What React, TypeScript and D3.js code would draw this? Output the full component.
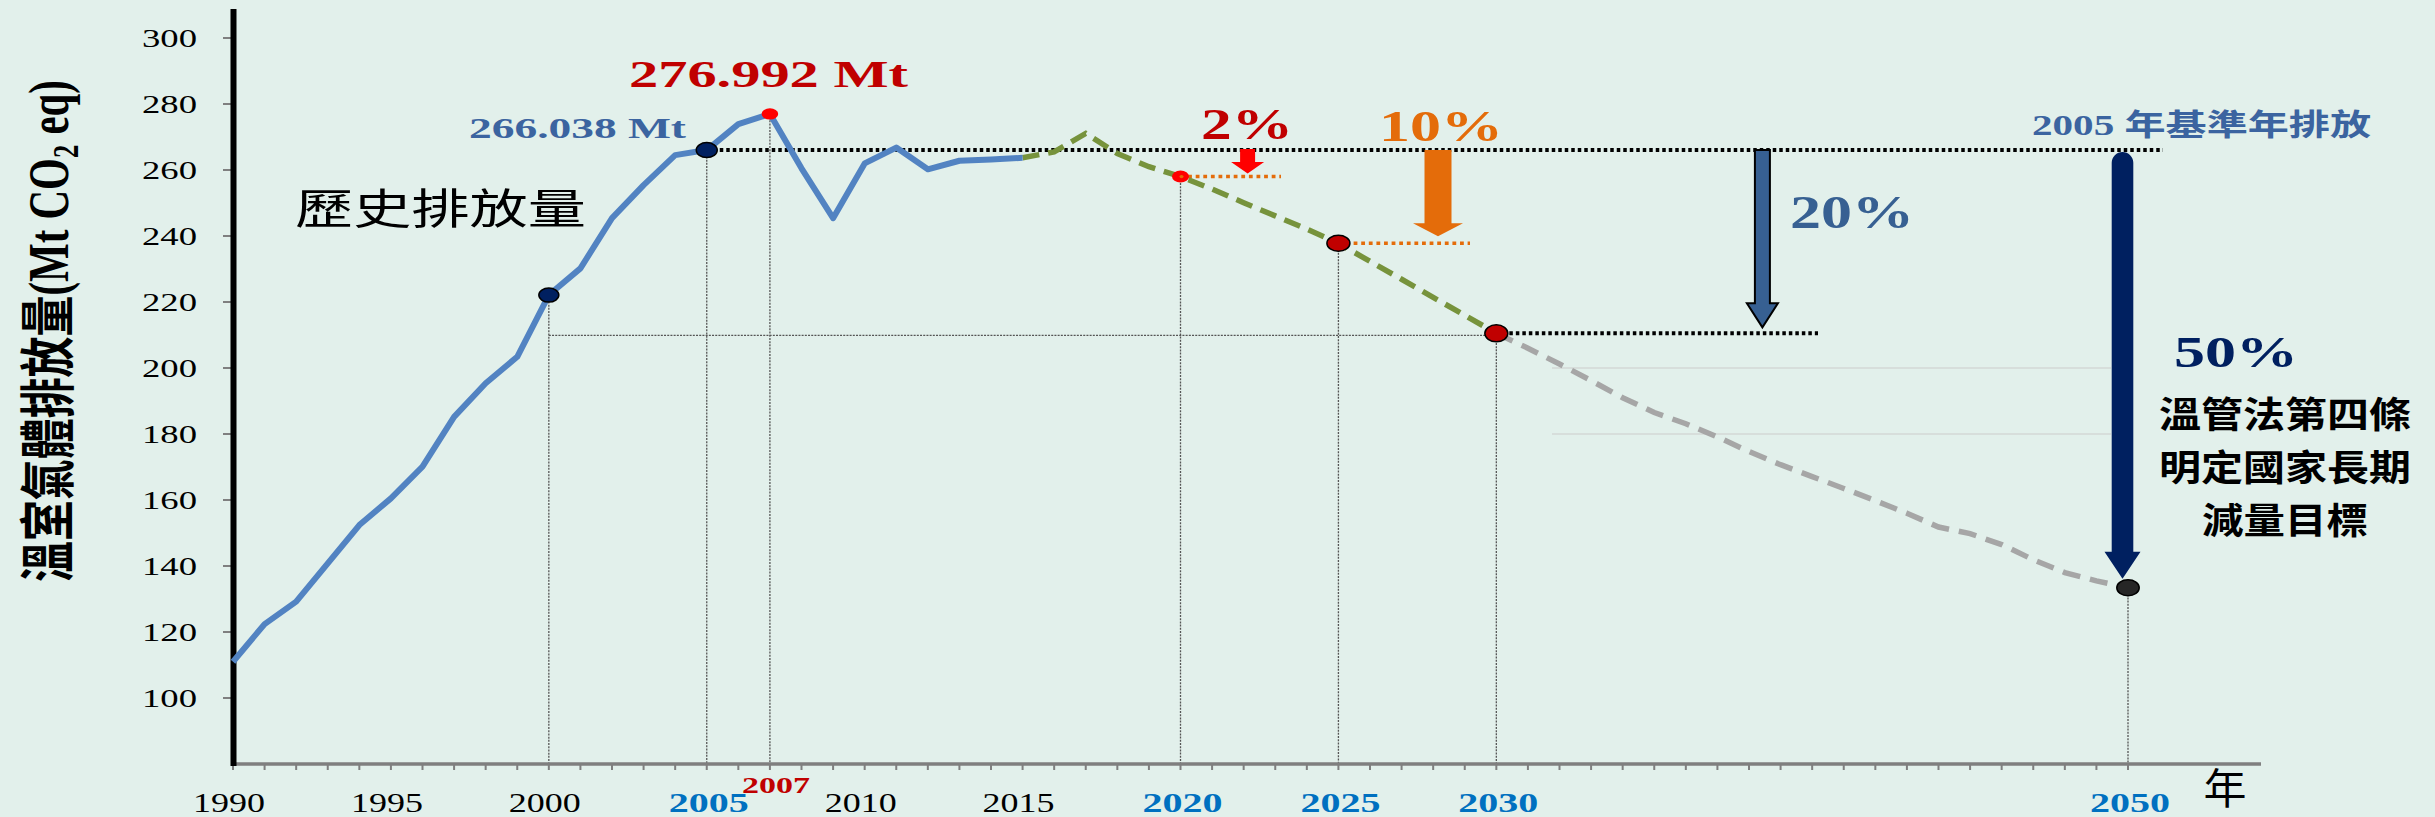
import { useEffect } from 'react';
import * as d3 from 'd3';

// historical emissions (Mt CO2e)
const historyYears = [1990, 1991, 1992, 1993, 1994, 1995, 1996, 1997, 1998, 1999, 2000, 2001, 2002,
  2003, 2004, 2005, 2006, 2007, 2008, 2009, 2010, 2011, 2012, 2013, 2014, 2015];
const historyValues = [111.0, 122.4, 129.2, 140.8, 152.4, 160.5, 170.1, 185.2, 195.4, 203.4, 222.1, 230.2, 245.4,
  255.4, 264.5, 266.038, 273.9, 276.992, 260.5, 245.4, 262.0, 266.8, 260.2, 262.8, 263.2, 263.7];

// near-term pathway (green dashed)
const pathYears = [2015, 2016, 2017, 2018, 2019, 2020, 2021, 2022, 2023, 2024, 2025, 2026, 2027, 2028, 2029, 2030];
const pathValues = [263.7, 265.5, 271.1, 265.0, 261.0, 258.0, 254.2, 250.1, 246.1, 242.1, 237.8, 232.3, 226.9, 221.4, 216.0, 210.5];

// long-term pathway (grey dashed)
const longYears = [2030, 2031, 2032, 2033, 2034, 2035, 2036, 2037, 2038, 2039, 2040,
  2041, 2042, 2043, 2044, 2045, 2046, 2047, 2048, 2049, 2050];
const longValues = [210.5, 206.0, 201.2, 196.2, 191.0, 186.5, 183.1, 179.1, 174.7, 170.7, 167.1,
  163.5, 159.8, 156.0, 151.8, 149.8, 146.5, 141.9, 138.0, 135.5, 133.4];

const yTicks = [100, 120, 140, 160, 180, 200, 220, 240, 260, 280, 300];
const plainYearLabels = [1990, 1995, 2000, 2010, 2015];
const keyYearLabels = [2005, 2020, 2025, 2030, 2050];
const baseYear = 2005;
const peakYear = 2007;
const faintGrid = [200, 180];

const W = 2435;
const H = 817;
const SERIF = '"Liberation Serif", "Times New Roman", serif';
const CJK = '"Noto Sans CJK TC", "Noto Sans CJK SC", sans-serif';

const x = d3.scaleLinear().domain([1990, 2050]).range([233, 2128]);
const y = d3.scaleLinear().domain([80, 300]).range([764, 38]);

const valueAt = (yr: number) => {
  const all = [...historyYears.map((d, i) => [d, historyValues[i]]),
    ...pathYears.map((d, i) => [d, pathValues[i]]),
    ...longYears.map((d, i) => [d, longValues[i]])];
  return (all.find(p => p[0] === yr) as number[])[1];
};

const line = d3.line<[number, number]>().x(d => x(d[0])).y(d => y(d[1]));
const zip = (a: number[], b: number[]) => a.map((d, i) => [d, b[i]] as [number, number]);

// text whose width is fitted to the stretched original
function Txt({ x0, yb, w, size, fill = '#000', weight = 400, family = SERIF, mid = false, children }: any) {
  return (
    <text x={mid ? x0 - w / 2 : x0} y={yb} fontSize={size} fill={fill} fontWeight={weight}
      fontFamily={family} textLength={w} lengthAdjust="spacingAndGlyphs">{children}</text>
  );
}

function arrowPath(cx: number, y0: number, y1: number, sw: number, hw: number, hl: number, round = false) {
  const top = round
    ? `M${cx - sw / 2},${y0 + sw / 2} A${sw / 2},${sw / 2} 0 0 1 ${cx + sw / 2},${y0 + sw / 2}`
    : `M${cx - sw / 2},${y0} L${cx + sw / 2},${y0}`;
  return `${top} L${cx + sw / 2},${y1 - hl} L${cx + hw / 2},${y1 - hl} L${cx},${y1} L${cx - hw / 2},${y1 - hl} L${cx - sw / 2},${y1 - hl} Z`;
}

export default function App() {
  useEffect(() => {
    document.body.style.margin = '0';
  }, []);

  const baseV = valueAt(baseYear);
  const v2000 = valueAt(2000);
  const v2020 = valueAt(2020);
  const v2025 = valueAt(2025);
  const v2030 = valueAt(2030);
  const v2050 = valueAt(2050);
  const yBase = y(baseV);
  const axisY = y(80);
  const dropYears = [2000, 2005, 2007, 2020, 2025, 2030, 2050];

  return (
    <svg width={W} height={H} style={{ position: 'absolute', left: 0, top: 0, display: 'block' }}>
      <rect width={W} height={H} fill="#e2f0eb" />

      {/* faint remnants of gridlines */}
      {faintGrid.map(v => (
        <line key={v} x1={1552} x2={2111} y1={y(v)} y2={y(v)} stroke="#d3d8d6" strokeWidth={1.5} />
      ))}

      {/* thin drop lines */}
      {dropYears.map(yr => (
        <line key={yr} x1={x(yr)} x2={x(yr)} y1={y(valueAt(yr))} y2={axisY}
          stroke="#555" strokeWidth={1.3} strokeDasharray="2 1.2" />
      ))}
      <line x1={x(2000)} x2={x(2030)} y1={y(v2030) + 2} y2={y(v2030) + 2}
        stroke="#555" strokeWidth={1.3} strokeDasharray="2 1.2" />

      {/* reference dotted lines */}
      <line x1={x(baseYear)} x2={2163} y1={yBase} y2={yBase} stroke="#000" strokeWidth={4} strokeDasharray="3.5 3" />
      <line x1={x(2030)} x2={1818} y1={y(v2030)} y2={y(v2030)} stroke="#000" strokeWidth={4} strokeDasharray="3.5 3" />
      <line x1={x(2020)} x2={1281} y1={y(v2020)} y2={y(v2020)} stroke="#e46c0a" strokeWidth={3.5} strokeDasharray="3.8 3.8" />
      <line x1={x(2025)} x2={1470} y1={y(v2025)} y2={y(v2025)} stroke="#e46c0a" strokeWidth={3.5} strokeDasharray="3.8 3.8" />

      {/* axes */}
      <line x1={233} x2={2261} y1={axisY} y2={axisY} stroke="#7f7f7f" strokeWidth={3.5} />
      {d3.range(1990, 2051).map(t => (
        <line key={t} x1={x(t)} x2={x(t)} y1={axisY} y2={axisY + 6} stroke="#7f7f7f" strokeWidth={2} />
      ))}
      {yTicks.map(t => (
        <line key={t} x1={223} x2={231} y1={y(t)} y2={y(t)} stroke="#7f7f7f" strokeWidth={2} />
      ))}
      <line x1={233.5} x2={233.5} y1={9} y2={axisY + 2} stroke="#000" strokeWidth={6} />

      {/* series */}
      <path d={line(zip(longYears, longValues)) as string} fill="none" stroke="#a6a6a6" strokeWidth={5.5} strokeDasharray="18 10" />
      <path d={line(zip(pathYears, pathValues)) as string} fill="none" stroke="#77933c" strokeWidth={5.5} strokeDasharray="17 9" />
      <path d={line(zip(historyYears, historyValues)) as string} fill="none" stroke="#5283c2" strokeWidth={6} strokeLinejoin="round" />

      {/* arrows */}
      <path d={arrowPath(1247.6, yBase - 1, y(v2020) - 3, 15, 33, 11.5)} fill="#ff0000" />
      <path d={arrowPath(1438, yBase, y(v2025) - 7, 27, 50, 13)} fill="#e46c0a" />
      <path d={arrowPath(1762.4, yBase, y(v2030) - 6, 15, 31, 24)} fill="#376092" stroke="#000" strokeWidth={2} />
      <path d={arrowPath(2122.5, yBase + 2, y(v2050) - 9, 21.6, 36, 27, true)} fill="#002060" />

      {/* markers */}
      <ellipse cx={x(2000)} cy={y(v2000)} rx={10} ry={7} fill="#002060" stroke="#000" strokeWidth={1.5} />
      <ellipse cx={x(baseYear)} cy={yBase} rx={10.5} ry={7.5} fill="#002060" stroke="#000" strokeWidth={1.5} />
      <ellipse cx={x(peakYear)} cy={y(valueAt(peakYear))} rx={8.3} ry={5.6} fill="#ff0000" />
      <ellipse cx={x(2020)} cy={y(v2020)} rx={8.5} ry={6} fill="#ff0000" />
      <ellipse cx={x(2020) + 1} cy={y(v2020)} rx={2} ry={1.6} fill="#e46c0a" />
      <ellipse cx={x(2025)} cy={y(v2025)} rx={11.5} ry={8} fill="#c00000" stroke="#000" strokeWidth={1.5} />
      <ellipse cx={x(2030)} cy={y(v2030)} rx={11.5} ry={8.5} fill="#c00000" stroke="#000" strokeWidth={1.5} />
      <ellipse cx={x(2050)} cy={y(v2050)} rx={11.2} ry={8} fill="#262626" stroke="#000" strokeWidth={1.5} />

      {/* y tick labels */}
      {yTicks.map(t => (
        <Txt key={t} x0={197 - 55} yb={y(t) + 9} w={55} size={26}>{t}</Txt>
      ))}

      {/* x tick labels */}
      {plainYearLabels.map(t => (
        <Txt key={t} x0={x(t) - 4} yb={812} w={72} size={27} mid>{t}</Txt>
      ))}
      {keyYearLabels.map(t => (
        <Txt key={t} x0={x(t) + 2} yb={812} w={80} size={27} weight={700} fill="#0070c0" mid>{t}</Txt>
      ))}
      <Txt x0={x(peakYear) + 6} yb={793} w={68} size={23} weight={700} fill="#c00000" mid>{peakYear}</Txt>
      <Txt x0={2225} yb={804} w={43} size={42} family={CJK} mid>年</Txt>

      {/* y axis title */}
      <text transform="translate(68,582) scale(1.4,1) rotate(-90)" fontSize={40} fontWeight={700}
        fontFamily={SERIF} textLength={502} lengthAdjust="spacingAndGlyphs">
        <tspan fontFamily={CJK}>溫室氣體排放量</tspan>
        <tspan>(Mt CO</tspan>
        <tspan fontSize={26} dy={7}>2</tspan>
        <tspan dy={-7}> eq)</tspan>
      </text>

      {/* annotations */}
      <Txt x0={629} yb={87} w={279} size={38} weight={700} fill="#c00000">276.992 Mt</Txt>
      <Txt x0={469} yb={138} w={217} size={30} weight={700} fill="#3b64a0">266.038 Mt</Txt>
      <Txt x0={295} yb={224} w={291} size={42} family={CJK}>歷史排放量</Txt>
      <Txt x0={1201} yb={139} w={92} size={44} weight={700} fill="#c00000">2%</Txt>
      <Txt x0={1379} yb={141} w={124} size={44} weight={700} fill="#e46c0a">10%</Txt>
      <Txt x0={1790} yb={228} w={124} size={46} weight={700} fill="#376092">20%</Txt>
      <Txt x0={2174} yb={367} w={124} size={44} weight={700} fill="#002060">50%</Txt>
      <text x={2032} y={135} fontSize={30} fontWeight={700} fill="#3b64a0" textLength={339} lengthAdjust="spacingAndGlyphs">
        <tspan fontFamily={SERIF}>2005 </tspan>
        <tspan fontFamily={CJK}>年基準年排放</tspan>
      </text>
      <Txt x0={2285} yb={428} w={252} size={36} weight={700} family={CJK} mid>溫管法第四條</Txt>
      <Txt x0={2285} yb={481} w={252} size={36} weight={700} family={CJK} mid>明定國家長期</Txt>
      <Txt x0={2285} yb={534} w={166} size={36} weight={700} family={CJK} mid>減量目標</Txt>
    </svg>
  );
}
